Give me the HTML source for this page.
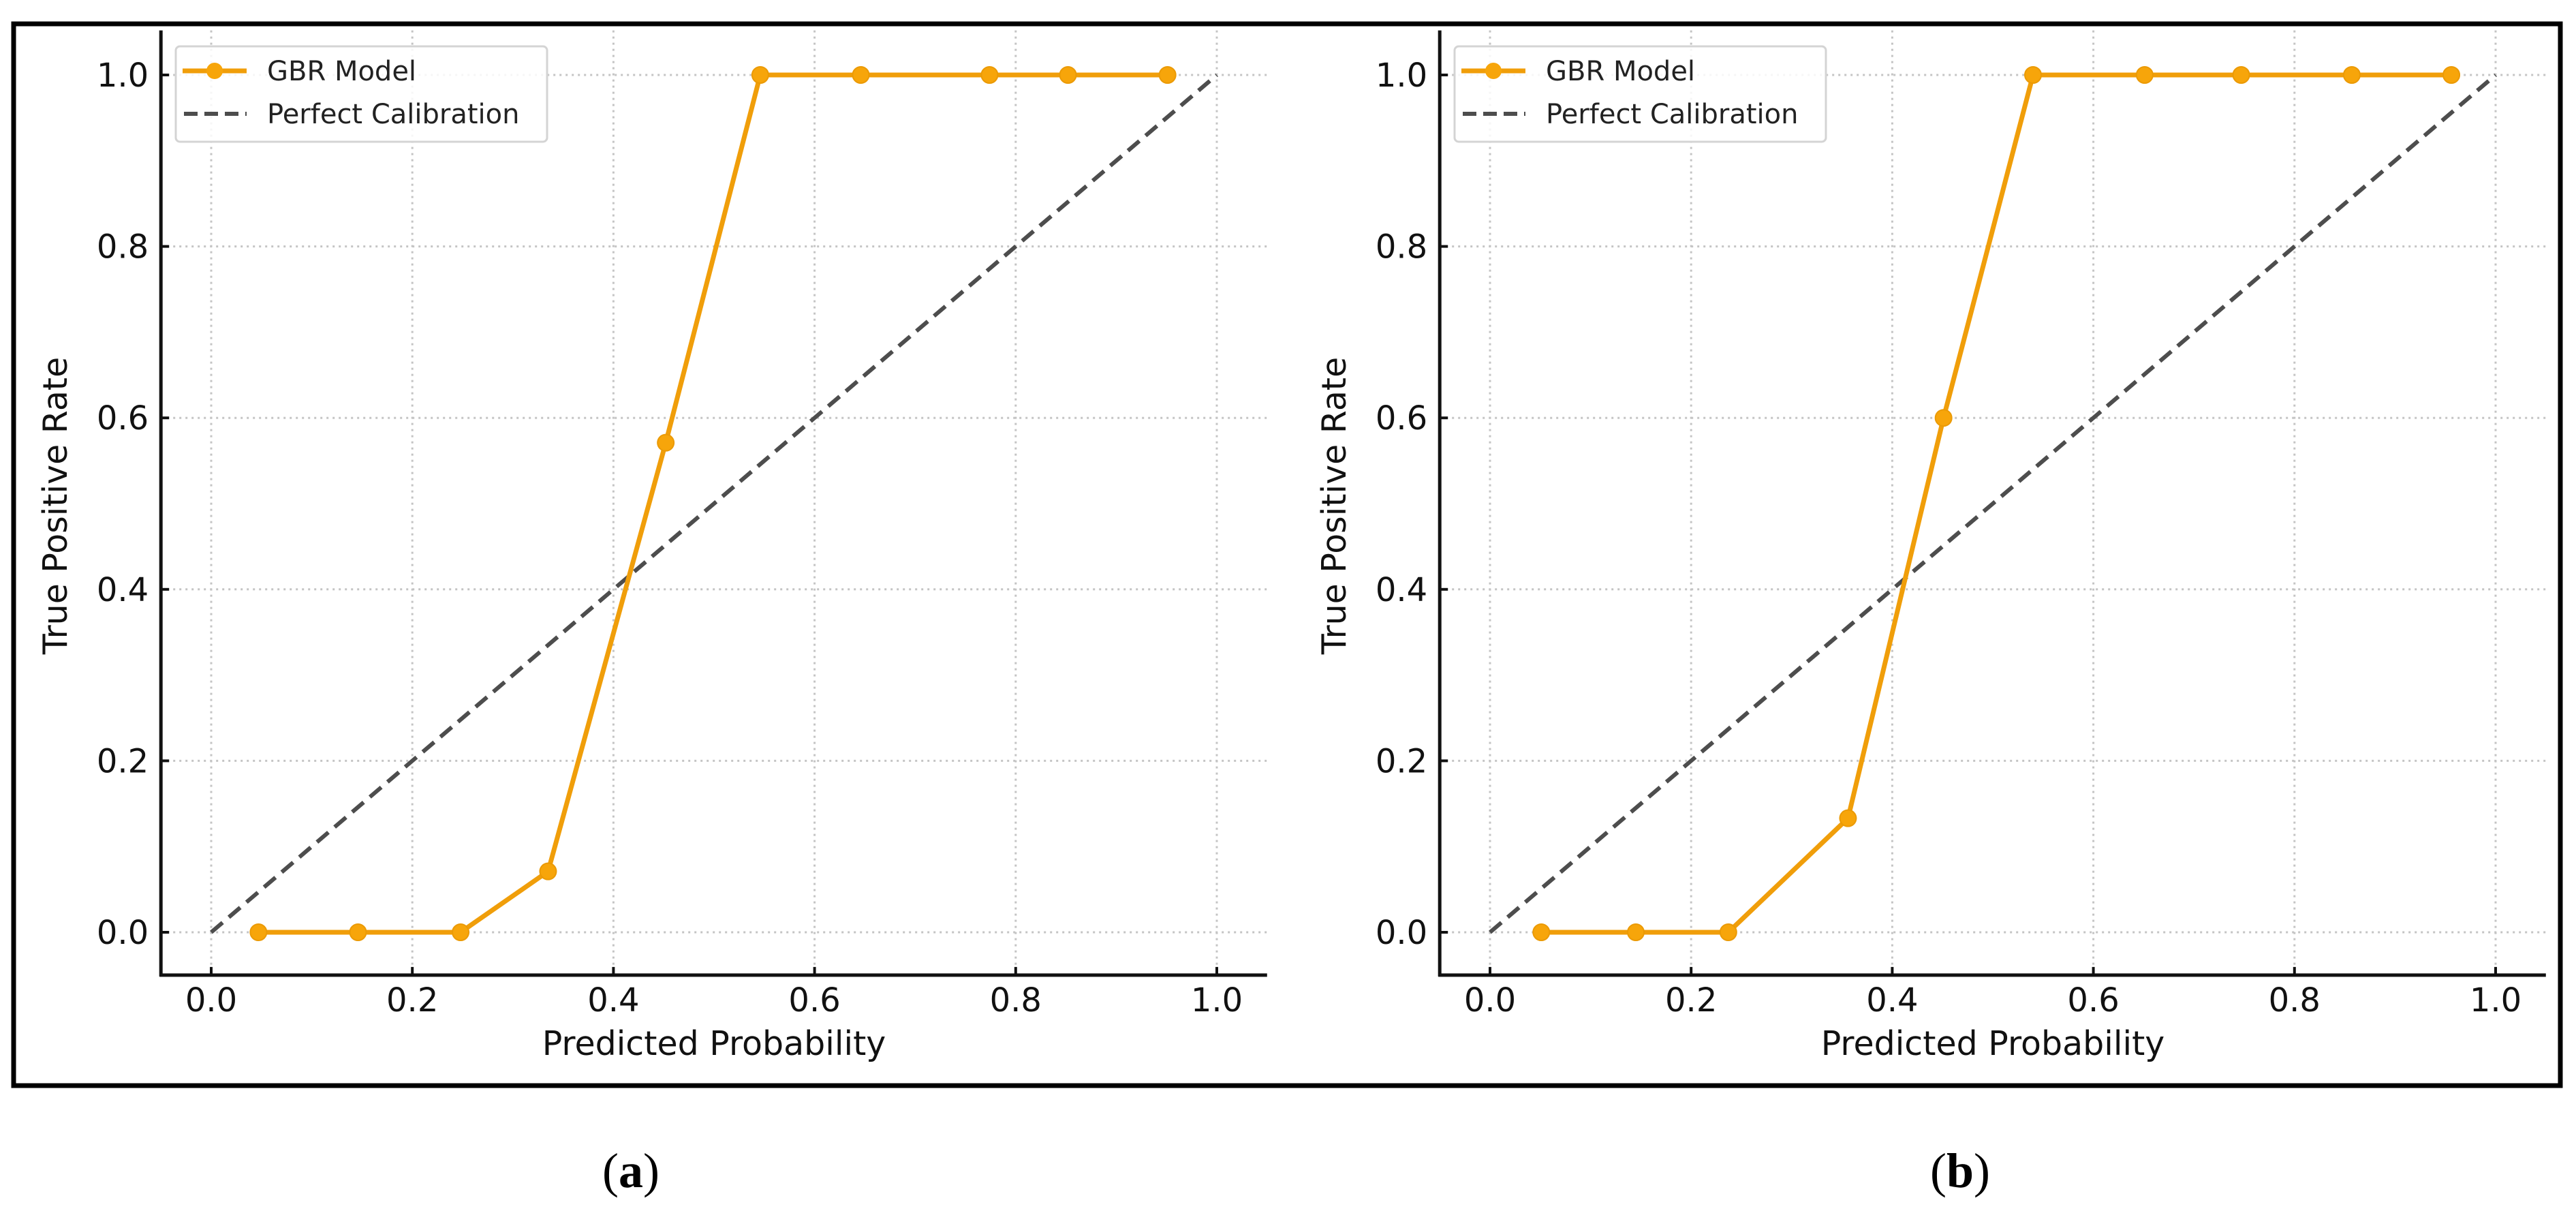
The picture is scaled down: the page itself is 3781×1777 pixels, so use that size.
<!DOCTYPE html>
<html><head><meta charset="utf-8"><style>
html,body{margin:0;padding:0;background:#fff;}
svg{display:block;}
text{font-family:"DejaVu Sans","Liberation Sans",sans-serif;}
</style></head><body>
<svg id="fig" width="3781" height="1777" viewBox="0 0 3781 1777" xmlns="http://www.w3.org/2000/svg">
<rect x="0" y="0" width="3781" height="1777" fill="#fff"/>
<rect x="20" y="35" width="3738" height="1558" fill="none" stroke="#000" stroke-width="7"/>
<text x="926" y="1742" font-size="72" text-anchor="middle" style="font-family:'Liberation Serif',serif">(<tspan font-weight="bold">a</tspan>)</text>
<text x="2877" y="1742" font-size="72" text-anchor="middle" style="font-family:'Liberation Serif',serif">(<tspan font-weight="bold">b</tspan>)</text>
</svg>
<script>
const xTicks = [0.0, 0.2, 0.4, 0.6, 0.8, 1.0];
const yTicks = [0.0, 0.2, 0.4, 0.6, 0.8, 1.0];
const tickLabels = ["0.0", "0.2", "0.4", "0.6", "0.8", "1.0"];
const probA = [0.047, 0.146, 0.248, 0.335, 0.452, 0.546, 0.646, 0.774, 0.852, 0.951];
const rateA = [0, 0, 0, 0.071, 0.571, 1, 1, 1, 1, 1];
const probB = [0.051, 0.145, 0.237, 0.356, 0.451, 0.540, 0.651, 0.747, 0.857, 0.956];
const rateB = [0, 0, 0, 0.133, 0.600, 1, 1, 1, 1, 1];
const perfect = [0, 1];

const NS = "http://www.w3.org/2000/svg";
const svg = document.getElementById('fig');
function mk(tag, attrs, parent) {
  const e = document.createElementNS(NS, tag);
  for (const k in attrs) e.setAttribute(k, attrs[k]);
  (parent || svg).appendChild(e);
  return e;
}
function panel(id, x0px, probs, rates) {
  const g = mk('g', {});
  
  
  const span = 1476, y0px = 1368, yspan = 1258;
  const sx = v => x0px + v * span;
  const sy = v => y0px - v * yspan;
  const left = sx(-0.05), right = sx(1.05), top = sy(1.052), bottom = sy(-0.05);
  xTicks.forEach(t => {
    const l = mk('line', {x1: sx(t), x2: sx(t), y1: top, y2: bottom, stroke: '#c4c4c4', 'stroke-width': 3, 'stroke-dasharray': '3 6'}, g);
    
    
  });
  yTicks.forEach(t => {
    const l = mk('line', {x1: left, x2: right, y1: sy(t), y2: sy(t), stroke: '#c4c4c4', 'stroke-width': 3, 'stroke-dasharray': '3 6'}, g);
    
    
  });
  const sp1 = mk('line', {x1: left, x2: left, y1: top, y2: bottom + 2, stroke: '#111', 'stroke-width': 5}, g);
  
  
  const sp2 = mk('line', {x1: left - 2, x2: right, y1: bottom, y2: bottom, stroke: '#111', 'stroke-width': 5}, g);
  
  
  xTicks.forEach((t, i) => {
    mk('line', {x1: sx(t), x2: sx(t), y1: bottom, y2: bottom - 12, stroke: '#111', 'stroke-width': 4}, g);
    const tx = mk('text', {x: sx(t), y: bottom + 53, 'font-size': 48, 'text-anchor': 'middle', fill: '#111'}, g);
    tx.textContent = tickLabels[i];
    
    
  });
  yTicks.forEach((t, i) => {
    mk('line', {x1: left, x2: left + 12, y1: sy(t), y2: sy(t), stroke: '#111', 'stroke-width': 4}, g);
    const tx = mk('text', {x: left - 18, y: sy(t) + 17, 'font-size': 48, 'text-anchor': 'end', fill: '#111'}, g);
    tx.textContent = tickLabels[i];
    
    
  });
  const xl = mk('text', {x: (sx(0) + sx(1)) / 2, y: 1548, 'font-size': 49, 'text-anchor': 'middle', fill: '#111'}, g);
  xl.textContent = 'Predicted Probability';
  
  
  const cx = x0px - 212, cy = 742;
  const yl = mk('text', {x: cx, y: cy, 'font-size': 49, 'text-anchor': 'middle', fill: '#111', transform: 'rotate(-90 ' + cx + ' ' + cy + ')'}, g);
  yl.textContent = 'True Positive Rate';
  
  
  const pl = mk('line', {x1: sx(perfect[0]), y1: sy(perfect[0]), x2: sx(perfect[1]), y2: sy(perfect[1]), stroke: '#4d4d4d', 'stroke-width': 6, 'stroke-dasharray': '22 12'}, g);
  
  
  const pts = probs.map((p, i) => sx(p) + ',' + sy(rates[i])).join(' ');
  const ml = mk('polyline', {points: pts, fill: 'none', stroke: '#f09e0a', 'stroke-width': 7, 'stroke-linejoin': 'round'}, g);
  
  
  probs.forEach((p, i) => {
    const c = mk('circle', {cx: sx(p), cy: sy(rates[i]), r: 12, fill: '#f7a50a', stroke: '#eb9a05', 'stroke-width': 2}, g);
    
    
  });
  const lx = x0px - 52;
  const lg = mk('g', {}, g);
  
  
  mk('rect', {x: lx, y: 68, width: 545, height: 140, rx: 6, fill: '#fff', 'fill-opacity': 0.85, stroke: '#d4d4d4', 'stroke-width': 3}, lg);
  mk('line', {x1: lx + 10, x2: lx + 104, y1: 104, y2: 104, stroke: '#f09e0a', 'stroke-width': 7}, lg);
  mk('circle', {cx: lx + 57, cy: 104, r: 12, fill: '#f7a50a'}, lg);
  const t1 = mk('text', {x: lx + 134, y: 118, 'font-size': 40, fill: '#222'}, lg);
  t1.textContent = 'GBR Model';
  
  
  mk('line', {x1: lx + 12, x2: lx + 104, y1: 167, y2: 167, stroke: '#4d4d4d', 'stroke-width': 6, 'stroke-dasharray': '20 10'}, lg);
  const t2 = mk('text', {x: lx + 134, y: 181, 'font-size': 40, fill: '#222'}, lg);
  t2.textContent = 'Perfect Calibration';
  
  
}
panel('a', 310, probA, rateA);
panel('b', 2187, probB, rateB);
</script>
</body></html>
